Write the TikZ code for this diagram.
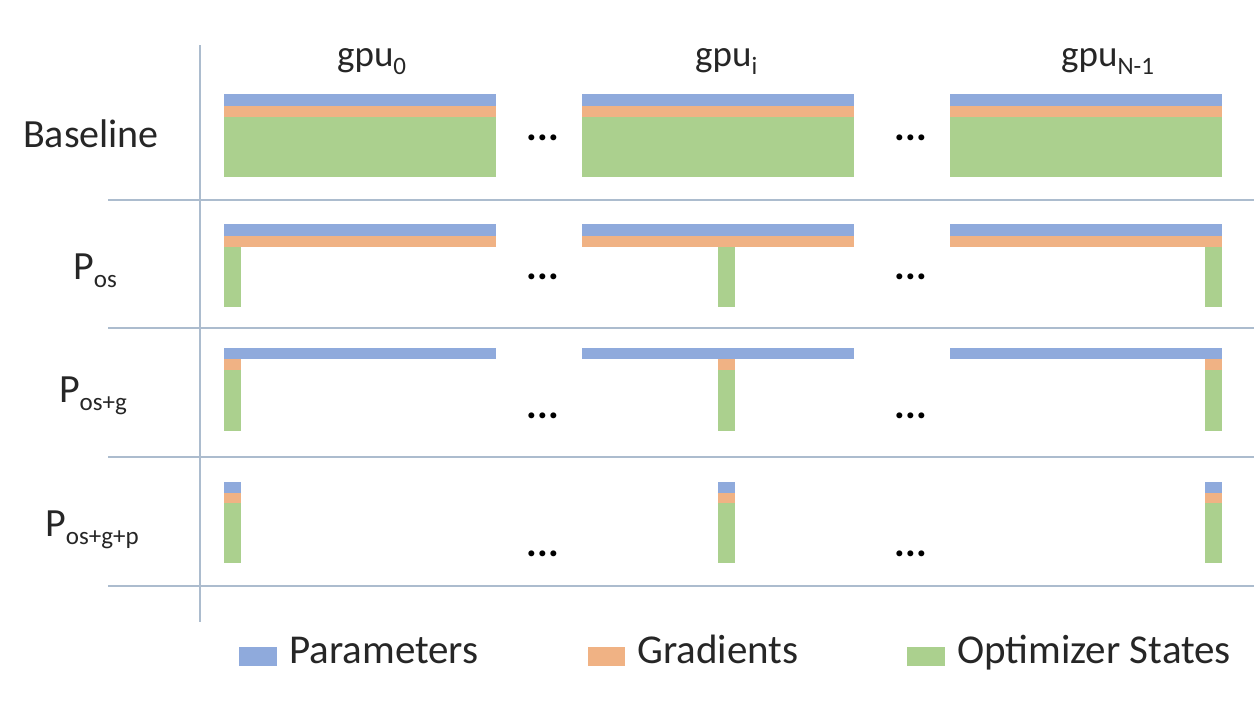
\documentclass[tikz,border=0pt]{standalone}
\usepackage{fontspec}
\setmainfont{Carlito}
\definecolor{parblue}{RGB}{143,170,220}
\definecolor{gradorange}{RGB}{240,178,132}
\definecolor{optgreen}{RGB}{171,208,142}
\definecolor{gridgray}{RGB}{172,188,206}
\newcommand{\lowsub}[1]{\raisebox{-8pt}{\fontsize{25}{25}\selectfont #1}}

\begin{document}
\begin{tikzpicture}[x=1pt, y=-1pt,
  grid/.style={gridgray, line width=1.6pt},
  rowlabel/.style={anchor=base, inner sep=0pt, font=\fontsize{40}{42}\selectfont, text=black!85},
  gpulabel/.style={anchor=base west, inner sep=0pt, font=\fontsize{37}{40}\selectfont, text=black!85},
  dots/.style={inner sep=0pt, font=\fontsize{40}{40}\selectfont\bfseries},
  keytext/.style={anchor=base west, inner sep=0pt, font=\fontsize{41}{44}\selectfont, text=black!85}]
  \useasboundingbox (0,0) rectangle (1254,710);
  % table rules
  \draw[grid] (200,45) -- (200,622);
  \foreach \y in {200,328,457,586} \draw[grid] (108,\y) -- (1254,\y);
  % row labels
  \node[rowlabel] (base) at (91,147) {Baseline};
  \node[rowlabel] (pos) at (95,279) {P\lowsub{os}};
  \node[rowlabel] (posg) at (93,402) {P\lowsub{os+g}};
  \node[rowlabel] (posgp) at (92,536) {P\lowsub{os+g+p}};
  % gpu headers
  \node[gpulabel] (gpu0) at (337,66) {gpu\lowsub{0}};
  \node[gpulabel] (gpui) at (695,66) {gpu\lowsub{i}};
  \node[gpulabel] (gpun) at (1061,66) {gpu\lowsub{N-1}};
  % baseline: every gpu holds everything
  \foreach \x in {224,582,950} {
    \fill[parblue] (\x,94) rectangle ++(272,12);
    \fill[gradorange] (\x,106) rectangle ++(272,11);
    \fill[optgreen] (\x,117) rectangle ++(272,60);
  }
  % P_os: optimizer states split
  \foreach \x/\s in {224/224,582/718,950/1205} {
    \fill[parblue] (\x,224) rectangle ++(272,12);
    \fill[gradorange] (\x,236) rectangle ++(272,11);
    \fill[optgreen] (\s,247) rectangle ++(17,60);
  }
  % P_os+g: gradients split too
  \foreach \x/\s in {224/224,582/718,950/1205} {
    \fill[parblue] (\x,348) rectangle ++(272,11);
    \fill[gradorange] (\s,359) rectangle ++(17,11);
    \fill[optgreen] (\s,370) rectangle ++(17,61);
  }
  % P_os+g+p: all split
  \foreach \s in {224,718,1205} {
    \fill[parblue] (\s,482) rectangle ++(17,11);
    \fill[gradorange] (\s,493) rectangle ++(17,10);
    \fill[optgreen] (\s,503) rectangle ++(17,60);
  }
  % dots between gpus
  \foreach \y [count=\r] in {138,277,416,554} {
    \node[dots] (dl\r) at (543,\y) {...};
    \node[dots] (dr\r) at (911,\y) {...};
  }
  % legend
  \fill[parblue] (239,647) rectangle (277,666);
  \node[keytext] (kpar) at (289,663) {Parameters};
  \fill[gradorange] (588,647) rectangle (625,666);
  \node[keytext] (kgrad) at (637,663) {Gradients};
  \fill[optgreen] (907,647) rectangle (945,666);
  \node[keytext] (kopt) at (957,663) {Optimizer States};
\end{tikzpicture}
\end{document}
